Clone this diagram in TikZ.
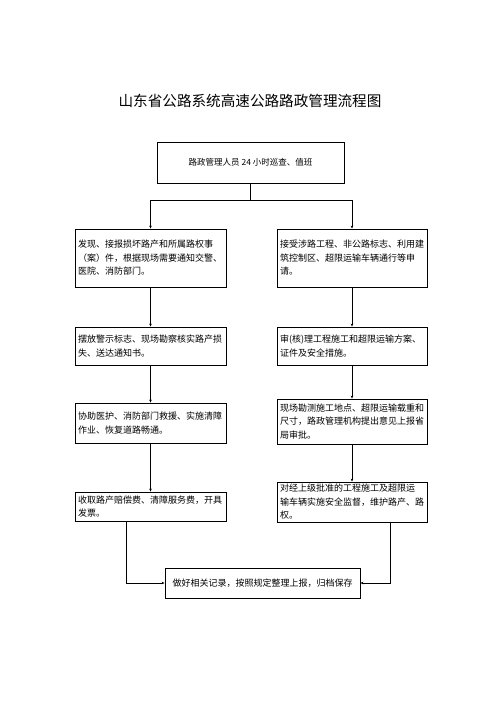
\documentclass[tikz,border=0pt]{standalone}
\usepackage{fontspec}
\setmainfont{Noto Sans CJK SC}
\usetikzlibrary{arrows.meta}
\begin{document}
\begin{tikzpicture}[x=1pt,y=-1pt,
  stepbox/.style={draw=black,line width=0.9pt,rectangle,inner xsep=3pt,inner ysep=1pt,
    align=left,font=\fontsize{9}{13.5}\selectfont},
  lbox/.style={stepbox,text width=145pt,minimum width=151pt},
  rbox/.style={stepbox,text width=144pt,minimum width=150pt},
  arr/.style={line width=0.6pt,-{Stealth[length=3pt,width=2.6pt]}},
  ln/.style={line width=0.6pt}]
\fill[white] (0,0) rectangle (496,702);
\useasboundingbox (0,0) rectangle (496,702);
\node[font=\fontsize{14.6}{16}\selectfont] (title) at (250,101) {山东省公路系统高速公路路政管理流程图};
\node[draw=black,line width=0.9pt,minimum width=187pt,minimum height=41pt,font=\fontsize{8.5}{10}\selectfont] (top) at (250.5,162.5) {路政管理人员 24 小时巡查、值班};
\node[lbox,minimum height=58pt] (l1) at (150.5,258) {发现、接报损坏路产和所属路权事\\（案）件，根据现场需要通知交警、\\医院、消防部门。};
\node[rbox,minimum height=58pt] (r1) at (352,258) {接受涉路工程、非公路标志、利用建\\筑控制区、超限运输车辆通行等申\\请。};
\node[lbox,minimum height=38pt] (l2) at (150.5,346) {摆放警示标志、现场勘察核实路产损\\失、送达通知书。};
\node[rbox,minimum height=38pt] (r2) at (352,346) {审(核)理工程施工和超限运输方案、\\证件及安全措施。};
\node[lbox,minimum height=40pt] (l3) at (150.5,423) {协助医护、消防部门救援、实施清障\\作业、恢复道路畅通。};
\node[rbox,minimum height=45pt] (r3) at (352,421.5) {现场勘测施工地点、超限运输载重和\\尺寸，路政管理机构提出意见上报省\\局审批。};
\node[lbox,minimum height=29pt] (l4) at (150.5,506.5) {收取路产赔偿费、清障服务费，开具\\发票。};
\node[rbox,minimum height=40pt] (r4) at (352,502) {对经上级批准的工程施工及超限运\\输车辆实施安全监督，维护路产、路\\权。};
\node[draw=black,line width=0.9pt,minimum width=195pt,minimum height=30pt,font=\fontsize{9}{11}\selectfont] (bot) at (262.5,583) {做好相关记录，按照规定整理上报，归档保存};
\path (top.south) ++(0,17) coordinate (sp);
\draw[ln] (top.south) -- (sp);
\draw[arr] (sp) -| (l1.north);
\draw[arr] (sp) -| (r1.north);
\draw[arr] (l1) -- (l2);
\draw[arr] (l2) -- (l3);
\draw[arr] (l3) -- (l4);
\draw[arr] (r1) -- (r2);
\draw[arr] (r2) -- (r3);
\draw[arr] (r3) -- (r4);
\path (l4.south west) ++(52,0) coordinate (lb);
\path (r4.south east) ++(-37,0) coordinate (rb);
\draw[arr] (lb) |- (bot.west);
\draw[arr] (rb) |- (bot.east);
\end{tikzpicture}
\end{document}
